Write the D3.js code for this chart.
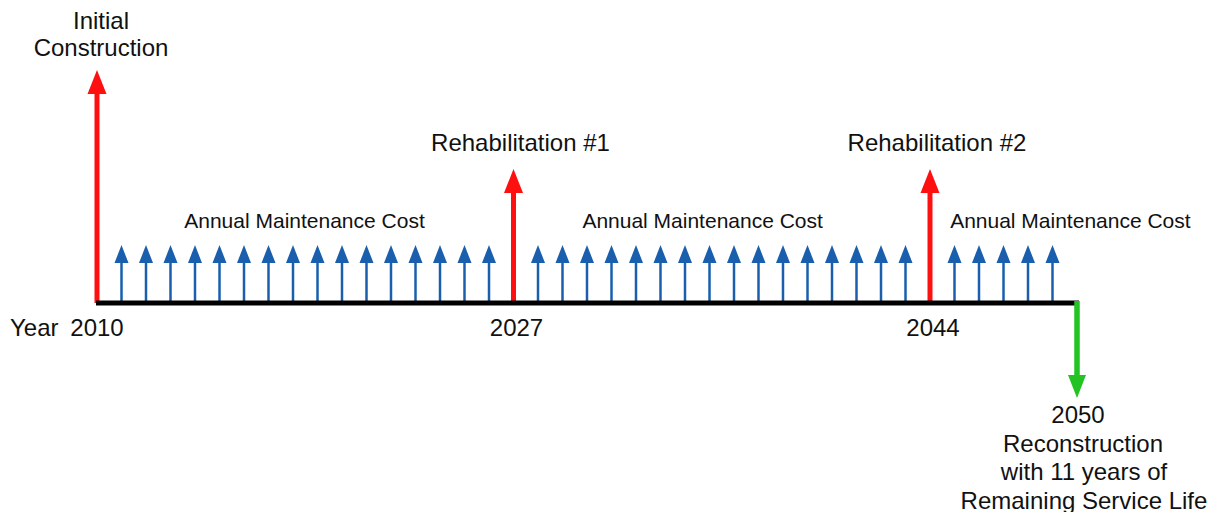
<!DOCTYPE html>
<html><head><meta charset="utf-8">
<script src="https://cdn.jsdelivr.net/npm/d3@7"></script>
<style>body{margin:0;background:#fff;}svg{display:block;}text{font-family:"Liberation Sans",Arial,sans-serif;fill:#111;}</style>
</head><body>
<script>
const startYear = 2010, endYear = 2050;
const majorEvents = [
  {year: 2010, label: ["Initial", "Construction"], height: 233},
  {year: 2027, label: ["Rehabilitation #1"], height: 134},
  {year: 2044, label: ["Rehabilitation #2"], height: 134}
];
const maintenanceYears = d3.range(2011, 2050).filter(y => y !== 2027 && y !== 2044);
const maintenanceHeight = 58;
const maintenanceLabelYears = [2018.47, 2034.72, 2049.73];
const yearLabels = [2010, 2027, 2044];
const endEvent = {year: 2050, depth: 95, label: ["2050", "Reconstruction", "with 11 years of", "Remaining Service Life"]};

const W = 1212, H = 512, baseY = 303;
const svg = d3.select("body").append("svg").attr("width", W).attr("height", H);
const x = d3.scaleLinear().domain([startYear, endYear]).range([97, 1077]);
const h = d3.scaleLinear().domain([0, 1]).range([0, 1]);

function upArrow(g, cx, top, color, sw, hw, hh) {
  g.append("line").attr("x1", cx).attr("x2", cx).attr("y1", baseY).attr("y2", top + hh - 1)
    .attr("stroke", color).attr("stroke-width", sw);
  g.append("path").attr("d", `M${cx},${top} L${cx - hw / 2},${top + hh} L${cx + hw / 2},${top + hh} Z`).attr("fill", color);
}

const gm = svg.append("g");
maintenanceYears.forEach(y => upArrow(gm, x(y), baseY - h(maintenanceHeight), "#1a5fad", 2.5, 14, 18));

const gr = svg.append("g");
majorEvents.forEach(e => upArrow(gr, x(e.year), baseY - h(e.height), "#ff1010", 5, 19, 24));

svg.append("line").attr("x1", x(startYear) - 1).attr("x2", x(endYear) + 2).attr("y1", baseY).attr("y2", baseY)
  .attr("stroke", "#000").attr("stroke-width", 5);

const gx = x(endEvent.year), gTip = baseY + endEvent.depth;
svg.append("line").attr("x1", gx).attr("x2", gx).attr("y1", baseY - 2).attr("y2", gTip - 20)
  .attr("stroke", "#22c322").attr("stroke-width", 5.5);
svg.append("path").attr("d", `M${gx},${gTip} L${gx - 9},${gTip - 23} L${gx + 9},${gTip - 23} Z`).attr("fill", "#22c322");

const fs = 24;
majorEvents.forEach(e => {
  const top = baseY - h(e.height);
  const n = e.label.length;
  e.label.forEach((t, i) => {
    svg.append("text").attr("x", x(e.year) + (n > 1 ? 4 : 7)).attr("y", top - (n > 1 ? 14 : 18) - (n - 1 - i) * 27)
      .attr("text-anchor", "middle").attr("font-size", fs).text(t);
  });
});

maintenanceLabelYears.forEach(y => {
  svg.append("text").attr("x", x(y)).attr("y", 228).attr("text-anchor", "middle").attr("font-size", 21).text("Annual Maintenance Cost");
});

svg.append("text").attr("x", 10).attr("y", 336).attr("font-size", fs).text("Year");
yearLabels.forEach((y, i) => svg.append("text").attr("x", x(y) + (i ? 3 : 0)).attr("y", 336).attr("text-anchor", "middle").attr("font-size", fs).text(y));

const endOffsets = [1, 6, 7, 7];
endEvent.label.forEach((t, i) => {
  svg.append("text").attr("x", gx + endOffsets[i]).attr("y", 423 + i * 28.5).attr("text-anchor", "middle").attr("font-size", fs).text(t);
});
</script>
</body></html>
